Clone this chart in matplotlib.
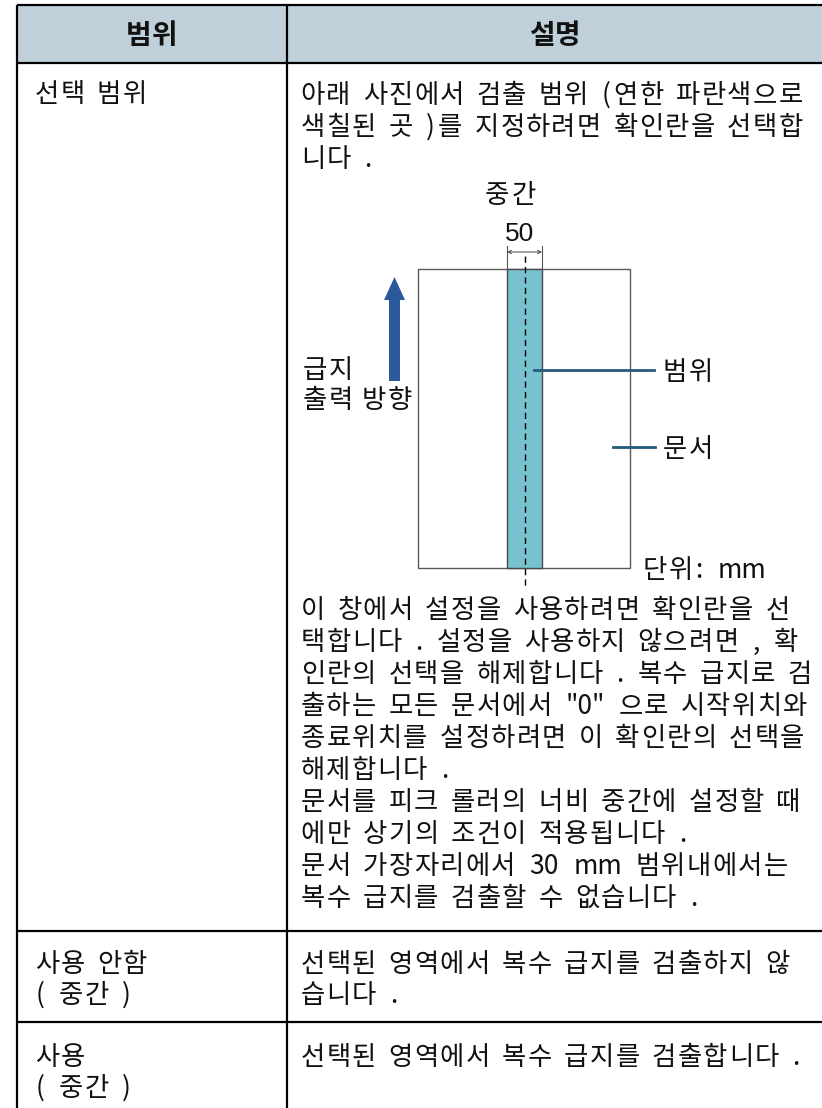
import matplotlib.pyplot as plt
from matplotlib.patches import Rectangle, Polygon

plt.rcParams['font.family'] = ['Noto Sans CJK KR', 'DejaVu Sans']

# table text
headers = ['범위', '설명']
row1_label = ['선택 범위']
row2_label = ['사용 안함', '( 중간 )']
row3_label = ['사용', '( 중간 )']
row1_desc_top = ['아래 사진에서 검출 범위 (연한 파란색으로',
                 '색칠된 곳 )를 지정하려면 확인란을 선택합',
                 '니다 .']
row1_desc_bottom = ['이 창에서 설정을 사용하려면 확인란을 선',
                    '택합니다 . 설정을 사용하지 않으려면 , 확',
                    '인란의 선택을 해제합니다 . 복수 급지로 검',
                    '출하는 모든 문서에서 "0" 으로 시작위치와',
                    '종료위치를 설정하려면 이 확인란의 선택을',
                    '해제합니다 .',
                    '문서를 피크 롤러의 너비 중간에 설정할 때',
                    '에만 상기의 조건이 적용됩니다 .',
                    '문서 가장자리에서 30 mm 범위내에서는',
                    '복수 급지를 검출할 수 없습니다 .']
row2_desc = ['선택된 영역에서 복수 급지를 검출하지 않', '습니다 .']
row3_desc = ['선택된 영역에서 복수 급지를 검출합니다 .']

# diagram labels
mid_label = '중간'
width_label = '50'
feed_label = ['급지', '출력 방향']
range_label = '범위'
doc_label = '문서'
unit_label = '단위: mm'

# page geometry (pixels)
W, H = 822, 1108
x_left, x_div, x_right = 17, 287, 822
y_top, y_head, y_r1, y_r2 = 5, 63, 931, 1022
line_h = 32
size = 19

fig = plt.figure(figsize=(W / 100, H / 100), dpi=100)
ax = fig.add_axes([0, 0, 1, 1])
ax.set_xlim(0, W)
ax.set_ylim(H, 0)
ax.axis('off')
renderer = fig.canvas.get_renderer()


def is_hangul(c):
    return '\uac00' <= c <= '\ud7a3'


def tokens(s):
    # hangul syllables one by one, other runs (digits, latin, punctuation) kept together
    out = []
    run = ''
    for c in s:
        if c == ' ' or is_hangul(c):
            if run:
                out.append(run)
                run = ''
            out.append(c)
        else:
            run += c
    if run:
        out.append(run)
    return out


def tracked(x, yc, s, fs=size, adv=25.6, space=11, ha='left', weight='normal', family=None):
    # place characters one by one to get the wide letter spacing of the original
    items = []
    cur = 0
    for tok in tokens(s):
        if tok == ' ':
            cur += space
            continue
        if is_hangul(tok):
            items.append((tok, cur + adv / 2))
            cur += adv
        else:
            t = ax.text(0, 0, tok, fontsize=fs, weight=weight, family=family)
            w = t.get_window_extent(renderer).width
            t.remove()
            pad = 2
            items.append((tok, cur + pad + w / 2))
            cur += w + 2 * pad
    x0 = x - cur / 2 if ha == 'center' else x
    base = yc + 0.37 * fs * 100 / 72
    for tok, cx in items:
        ax.text(x0 + cx, base, tok, fontsize=fs, ha='center', va='baseline',
                weight=weight, color='#111111', family=family)


# header background
ax.add_patch(Rectangle((x_left, y_top), x_right - x_left, y_head - y_top,
                       facecolor='#BFD0DA', edgecolor='none'))

# table lines
lw = 1.6
for y in [y_top, y_head, y_r1, y_r2]:
    ax.plot([x_left, x_right], [y, y], color='black', lw=lw, solid_capstyle='butt')
for x in [x_left, x_div]:
    ax.plot([x, x], [y_top, H], color='black', lw=lw, solid_capstyle='butt')

# headers
tracked((x_left + x_div) / 2, (y_top + y_head) / 2, headers[0], fs=20, adv=26, ha='center', weight='bold')
tracked((x_div + x_right) / 2, (y_top + y_head) / 2, headers[1], fs=20, adv=26, ha='center', weight='bold')

# left column
xl = 34
for i, s in enumerate(row1_label):
    tracked(xl, 92 + i * line_h, s)
for i, s in enumerate(row2_label):
    tracked(xl, 962 + i * 31, s)
for i, s in enumerate(row3_label):
    tracked(xl, 1055 + i * 31, s)

# right column
xr = 300
for i, s in enumerate(row1_desc_top):
    tracked(xr, 93 + i * line_h, s)
for i, s in enumerate(row1_desc_bottom):
    tracked(xr, 608 + i * line_h, s)
for i, s in enumerate(row2_desc):
    tracked(xr, 962 + i * 31, s)
for i, s in enumerate(row3_desc):
    tracked(xr, 1055 + i * 31, s)

# diagram: document and detection strip
doc_x0, doc_x1, doc_y0, doc_y1 = 418, 630, 269, 568
strip_x0, strip_x1 = 507, 542
center_x = (strip_x0 + strip_x1) / 2

ax.add_patch(Rectangle((doc_x0, doc_y0), doc_x1 - doc_x0, doc_y1 - doc_y0,
                       facecolor='white', edgecolor='#5a5a5a', lw=1.0))
ax.add_patch(Rectangle((strip_x0, doc_y0), strip_x1 - strip_x0, doc_y1 - doc_y0,
                       facecolor='#78C2CF', edgecolor='#4a4a4a', lw=1.0))
ax.plot([center_x, center_x], [256, 587], color='black', lw=1.0,
        linestyle=(0, (4.5, 3)))

# width dimension
for x in [strip_x0, strip_x1]:
    ax.plot([x, x], [246, doc_y0], color='#555555', lw=0.8)
ax.annotate('', xy=(strip_x0, 252), xytext=(strip_x1, 252),
            arrowprops=dict(arrowstyle='<->', lw=0.7, color='#444444',
                            mutation_scale=6, shrinkA=0, shrinkB=0))
ax.text(520, 241, width_label, fontsize=19, ha='center', va='baseline',
        family=['Liberation Sans', 'DejaVu Sans'], color='#111111')
tracked(510, 193, mid_label, ha='center', adv=27)

# feed direction arrow
arrow_pts = [(389, 381), (389, 300), (384, 300), (394.5, 277),
             (405, 300), (400, 300), (400, 381)]
ax.add_patch(Polygon(arrow_pts, closed=True, facecolor='#2A5A9B', edgecolor='none'))
tracked(302, 368, feed_label[0])
tracked(302, 398, feed_label[1], space=8)

# pointer labels
ax.plot([534, 654], [370, 370], color='#245C7C', lw=2.0)
tracked(662, 370, range_label)
ax.plot([613, 655], [447, 447], color='#245C7C', lw=2.0)
tracked(662, 447, doc_label)
tracked(642, 568, unit_label)

fig.savefig('out.png', dpi=100)
